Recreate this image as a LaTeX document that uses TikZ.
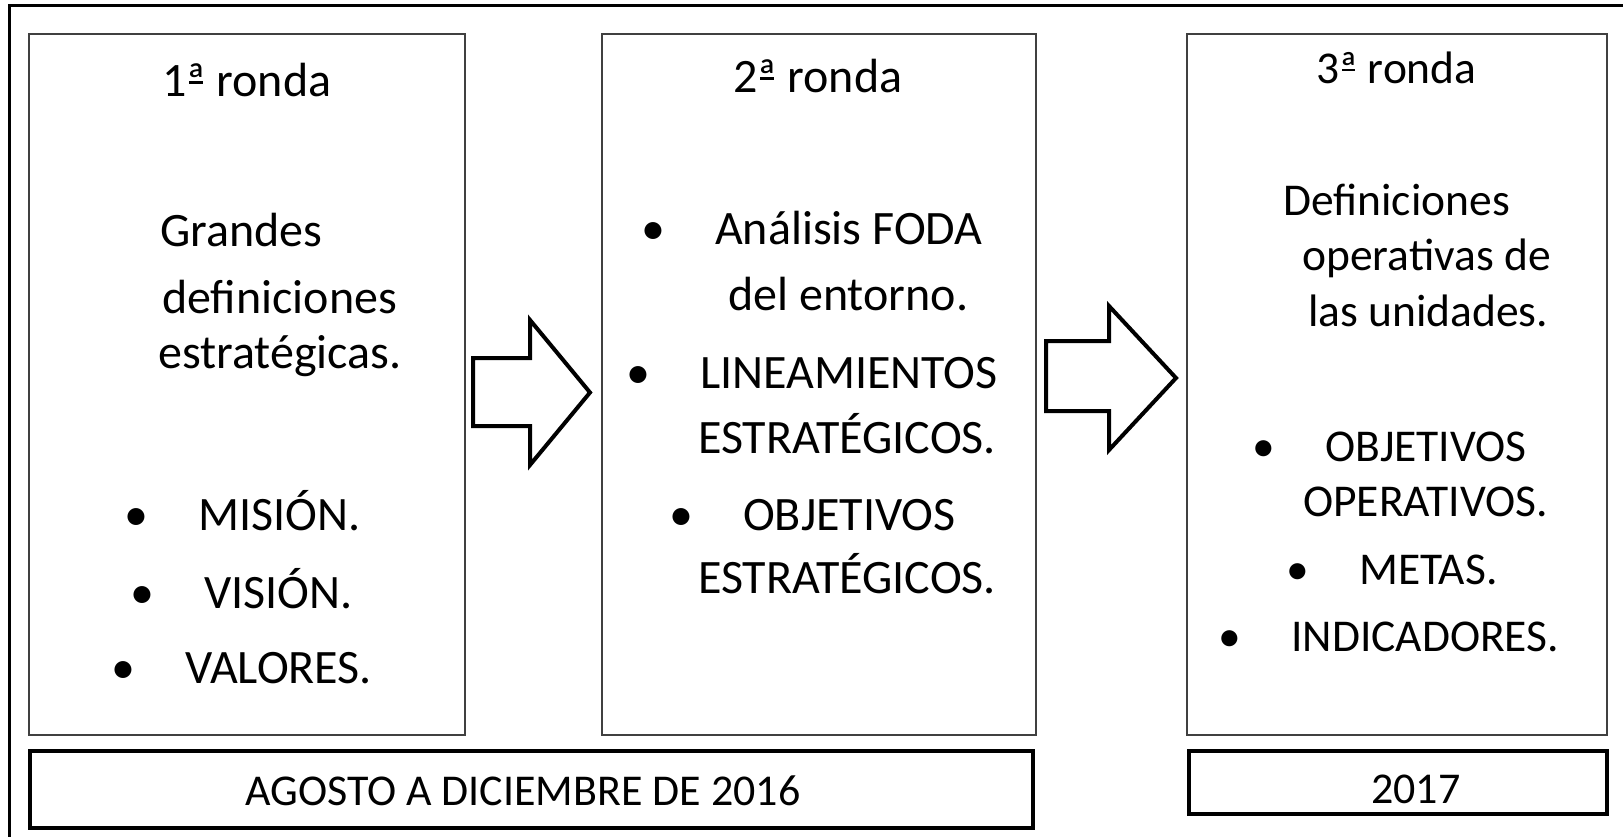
\documentclass[tikz,border=0pt]{standalone}
\usepackage{fontspec}
\setmainfont{Carlito}
\newcommand{\bul}{\llap{•\hspace{50pt}}}
\newcommand{\ordu}{\setbox0\hbox{ª}\rlap{ª}\raisebox{0.28em}{\makebox[\wd0]{\rule{0.7\wd0}{0.05em}}}}

\begin{document}
\begin{tikzpicture}[x=1pt, y=-1pt,
    ronda/.style={draw=black!75, line width=2pt, minimum width=#1, minimum height=701pt, inner sep=0pt, outer sep=0pt},
    fecha/.style={draw=black, line width=4pt, inner sep=0pt, outer sep=0pt},
    flecha/.style={draw=black, line width=4pt, line join=miter},
    txt/.style={anchor=base west, inner sep=0pt, font=\fontsize{48}{58}\selectfont},
    txtc/.style={txt, font=\fontsize{45.5}{55}\selectfont},
    txtd/.style={txt, font=\fontsize{44}{53}\selectfont}]
    \useasboundingbox (0,0) rectangle (1623,837);

    % 1. Outer frame (only top and left edges are visible)
    \draw[line width=3pt] (9.5,837) -- (9.5,5.7) -- (1623,5.7);

    % 2. The three round boxes
    \node[ronda=436pt] (ronda1) at (247,384.5) {};
    \node[ronda=434pt] (ronda2) at (819,384.5) {};
    \node[ronda=420pt] (ronda3) at (1397,384.5) {};

    % 3. Date boxes
    \node[fecha, minimum width=1003pt, minimum height=77.5pt] (fecha1) at (531.5,789.25) {};
    \node[fecha, minimum width=418pt, minimum height=63.5pt] (fecha2) at (1397.5,782.25) {};

    % 4. Block arrows between the boxes
    \draw[flecha] (473,358) -- (530,358) -- (530,320) -- (590,392.5)
        -- (530,465) -- (530,426) -- (473,426) -- cycle;
    \draw[flecha] (1046,341) -- (1109,341) -- (1109,306) -- (1176,378)
        -- (1109,450) -- (1109,411) -- (1046,411) -- cycle;

    % 5. Texts of the first round
    \node[txt] (t1) at (162,97) {1\ordu{} ronda};
    \node[txt] (t1a) at (160,247) {Grandes};
    \node[txt] (t1b) at (162,313) {definiciones};
    \node[txt] (t1c) at (158,368) {estratégicas.};
    \node[txt] (t1d) at (198,530) {\bul MISIÓN.};
    \node[txt] (t1e) at (204,608) {\bul VISIÓN.};
    \node[txt] (t1f) at (185,683) {\bul VALORES.};

    % 6. Texts of the second round
    \node[txt] (t2) at (733,93) {2\ordu{} ronda};
    \node[txt] (t2a) at (715,245) {\bul Análisis FODA};
    \node[txt] (t2b) at (728,310) {del entorno.};
    \node[txt] (t2c) at (700,388) {\bul LINEAMIENTOS};
    \node[txt] (t2d) at (698,453) {ESTRATÉGICOS.};
    \node[txt] (t2e) at (743,530) {\bul OBJETIVOS};
    \node[txt] (t2f) at (698,593) {ESTRATÉGICOS.};

    % 7. Texts of the third round
    \node[txtc] (t3) at (1316,84) {3\ordu{} ronda};
    \node[txtc] (t3a) at (1283,216) {Definiciones};
    \node[txtc] (t3b) at (1302,271) {operativas de};
    \node[txtc] (t3c) at (1308,326) {las unidades.};
    \node[txtc] (t3d) at (1325,461) {\bul OBJETIVOS};
    \node[txtc] (t3e) at (1303,516) {OPERATIVOS.};
    \node[txtc] (t3f) at (1359,584) {\bul METAS.};
    \node[txtc] (t3g) at (1291,651) {\bul INDICADORES.};

    % 8. Dates
    \node[txtd] (d1) at (245,805) {AGOSTO A DICIEMBRE DE 2016};
    \node[txtd] (d2) at (1371,803) {2017};

\end{tikzpicture}
\end{document}
